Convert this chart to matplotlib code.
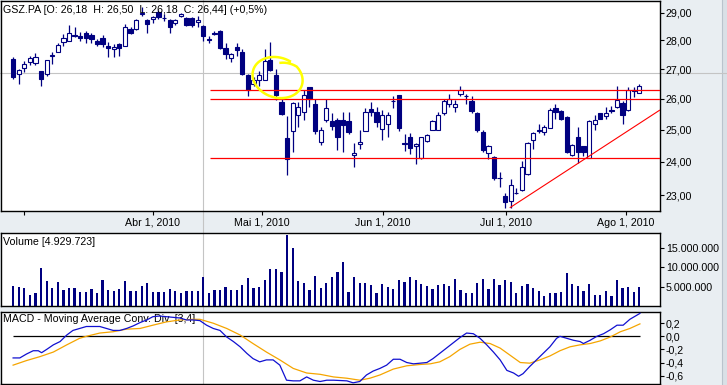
import numpy as np
import matplotlib
matplotlib.use("Agg")
import matplotlib.pyplot as plt
from matplotlib.lines import Line2D
from matplotlib.patches import Rectangle
from matplotlib.ticker import NullLocator
from matplotlib.transforms import IdentityTransform

# daily candles GSZ.PA, late Feb .. early Aug 2010 (one entry per trading day)
opens = [27.34, 26.83, 27.03, 27.23, 27.21, 26.92, 26.83, 27.45, 27.60, 27.96,
         27.99, 28.20, 28.16, 28.28, 28.19, 27.99, 28.08, 27.80, 27.68, 27.89,
         27.82, 28.41, 28.41, 28.96, 28.74, 28.78, 29.02, 28.82, 28.74, 28.62,
         28.87, 28.82, 28.82, 28.65, 28.53, 28.05, 28.28, 28.35, 27.74, 27.38,
         27.76, 27.60, 26.78, 26.50, 26.61, 26.64, 27.31, 26.81, 25.88, 24.72,
         24.96, 25.46, 25.57, 26.39, 25.84, 24.61, 25.32, 25.27, 25.32, 25.32,
         25.27, 24.20, 24.53, 24.96, 25.65, 25.57, 25.03, 25.19, 25.93, 26.11,
         24.57, 24.75, 24.49, 24.12, 24.64, 25.00, 25.00, 25.52, 25.84, 25.73,
         26.17, 26.10, 25.92, 25.53, 24.92, 24.26, 24.14, 23.52, 22.97, 22.83,
         23.07, 23.15, 23.62, 24.66, 24.99, 24.92, 25.06, 25.71, 25.59, 25.41,
         24.19, 24.75, 24.47, 24.12, 25.19, 25.52, 25.43, 25.63, 25.73, 25.86,
         25.62, 26.29, 26.18]
highs = [27.40, 26.99, 27.28, 27.45, 27.55, 26.94, 27.31, 27.60, 27.91, 28.22,
         28.56, 28.47, 28.32, 28.35, 28.26, 28.04, 28.20, 27.93, 27.87, 27.91,
         28.59, 28.47, 28.78, 29.21, 28.78, 28.90, 29.09, 28.96, 28.78, 28.78,
         29.00, 28.84, 28.84, 28.90, 28.57, 28.16, 28.35, 28.37, 27.91, 27.57,
         27.91, 27.68, 26.83, 26.72, 26.92, 27.68, 27.94, 27.00, 26.00, 25.43,
         25.89, 25.89, 26.30, 26.40, 26.00, 25.08, 26.00, 25.52, 25.36, 25.57,
         25.57, 24.58, 25.00, 25.68, 25.89, 25.73, 25.64, 25.57, 26.08, 26.13,
         24.87, 24.89, 24.57, 24.77, 24.85, 25.30, 25.55, 26.00, 26.17, 25.97,
         26.44, 26.17, 26.08, 25.57, 24.98, 24.51, 24.16, 23.69, 23.07, 23.49,
         23.20, 24.03, 24.61, 24.92, 25.19, 25.14, 25.68, 25.82, 25.62, 25.43,
         24.54, 25.08, 24.48, 25.30, 25.46, 25.54, 25.73, 25.75, 26.44, 25.92,
         26.39, 26.39, 26.50]
lows = [26.67, 26.50, 26.89, 27.15, 27.14, 26.42, 26.75, 27.17, 27.59, 27.80,
        27.97, 28.12, 27.99, 27.91, 27.91, 27.80, 27.76, 27.40, 27.42, 27.45,
        27.80, 28.22, 28.37, 28.87, 28.28, 28.62, 28.78, 28.72, 28.28, 28.56,
        28.84, 28.53, 28.47, 28.47, 27.99, 27.91, 28.18, 27.68, 27.34, 27.23,
        27.45, 26.81, 26.08, 26.41, 26.44, 26.61, 26.94, 25.97, 25.46, 23.59,
        24.29, 25.08, 25.30, 25.73, 24.87, 24.51, 25.24, 24.98, 24.35, 24.29,
        24.87, 23.83, 24.38, 24.95, 25.43, 25.08, 24.66, 24.77, 25.68, 24.96,
        24.32, 24.22, 23.93, 24.09, 24.61, 24.98, 24.98, 25.46, 25.73, 25.57,
        26.09, 25.84, 25.52, 24.92, 24.29, 24.09, 23.44, 23.23, 22.64, 22.64,
        23.03, 23.13, 23.59, 24.40, 24.89, 24.82, 25.04, 25.35, 25.32, 24.26,
        24.16, 23.95, 24.16, 24.10, 24.98, 25.33, 25.35, 25.52, 25.68, 25.19,
        25.60, 26.05, 26.18]
closes = [26.72, 26.98, 27.17, 27.38, 27.42, 26.65, 27.31, 27.47, 27.85, 28.08,
          28.28, 28.15, 28.08, 28.10, 28.04, 27.87, 27.87, 27.72, 27.76, 27.72,
          28.47, 28.25, 28.74, 28.98, 28.59, 28.86, 28.84, 28.80, 28.47, 28.74,
          28.96, 28.56, 28.57, 28.74, 28.16, 28.03, 28.22, 27.74, 27.51, 27.51,
          27.65, 26.83, 26.30, 26.64, 26.80, 27.28, 26.98, 26.14, 25.49, 24.09,
          25.87, 25.73, 26.11, 26.00, 24.96, 25.00, 25.68, 25.12, 24.77, 25.16,
          24.91, 24.27, 24.60, 25.57, 25.57, 25.24, 25.48, 25.46, 25.91, 25.06,
          24.55, 24.43, 24.56, 24.75, 24.82, 25.28, 25.48, 25.92, 26.00, 25.84,
          26.30, 26.08, 25.60, 24.98, 24.35, 24.47, 23.51, 23.50, 22.80, 23.29,
          23.06, 23.85, 24.59, 24.89, 24.97, 25.08, 25.62, 25.57, 25.35, 24.29,
          24.51, 24.29, 24.29, 25.27, 25.32, 25.35, 25.54, 25.61, 25.95, 25.48,
          26.28, 26.27, 26.44]
# volume in millions of shares
volume = [5.15, 4.90, 4.64, 2.85, 3.28, 9.77, 6.36, 4.64, 6.18, 4.13,
          4.64, 4.64, 3.54, 3.54, 4.31, 3.28, 6.69, 4.05, 3.79, 4.31,
          6.36, 3.79, 3.79, 5.08, 5.85, 3.54, 3.54, 3.54, 4.31, 3.79,
          3.28, 3.79, 3.79, 3.79, 7.46, 3.28, 4.05, 4.05, 4.90, 4.05,
          4.05, 5.33, 7.20, 4.64, 4.90, 6.69, 9.50, 9.50, 8.92, 18.40,
          15.08, 6.36, 5.85, 4.05, 7.72, 4.64, 5.85, 7.46, 8.67, 11.49,
          3.54, 7.46, 6.00, 6.00, 5.33, 3.46, 5.77, 4.90, 4.31, 6.62,
          6.10, 7.46, 6.62, 5.59, 5.26, 4.31, 5.33, 5.59, 5.08, 6.87,
          4.05, 3.46, 3.46, 5.85, 6.87, 4.31, 6.87, 5.33, 6.62, 6.10,
          3.28, 5.15, 5.59, 4.56, 3.87, 2.59, 3.28, 3.28, 3.54, 8.41,
          5.59, 5.15, 3.87, 5.59, 2.85, 2.85, 3.87, 2.59, 6.62, 4.74,
          4.90, 3.54, 4.93]

# MACD (3,4): bar position, value
macd_x = [0, 1.2, 2.4, 3.6, 4.5, 5.1, 6.0, 7.2, 8.4, 9.6, 10.7, 11.9, 13.1, 15.5,
          16.7, 17.9, 19.1, 20.3, 21.5, 22.7, 23.9, 25.0, 26.2, 27.4, 28.6, 29.8,
          31.0, 32.2, 33.4, 34.6, 35.8, 37.0, 38.2, 39.4, 40.6, 41.8, 42.9, 44.1,
          45.3, 46.5, 47.7, 48.9, 50.1, 51.3, 52.5, 53.7, 54.9, 56.1, 57.3, 59.7,
          60.8, 62.0, 63.2, 64.4, 65.6, 66.8, 68.0, 69.2, 70.4, 71.6, 72.8, 74.0,
          75.1, 76.3, 77.5, 78.7, 79.9, 81.1, 82.3, 83.5, 84.7, 85.9, 87.1, 88.3,
          89.5, 90.4, 91.2, 92.4, 93.6, 94.8, 96.0, 97.2, 97.8, 99.0, 100.2, 101.4,
          102.0, 103.2, 104.4, 105.6, 106.8, 108.0, 109.1, 110.3, 112.1]
macd_v = [-0.33, -0.33, -0.27, -0.22, -0.22, -0.25, -0.20, -0.13, -0.08, 0.02, 0.09,
          0.12, 0.15, 0.15, 0.12, 0.09, 0.09, 0.12, 0.16, 0.21, 0.25, 0.30, 0.31,
          0.30, 0.29, 0.28, 0.25, 0.25, 0.24, 0.17, 0.12, 0.09, -0.01, -0.08, -0.16,
          -0.26, -0.34, -0.39, -0.36, -0.36, -0.44, -0.67, -0.68, -0.68, -0.62,
          -0.67, -0.69, -0.67, -0.67, -0.68, -0.71, -0.69, -0.59, -0.53, -0.49,
          -0.44, -0.35, -0.35, -0.40, -0.42, -0.41, -0.40, -0.34, -0.26, -0.18,
          -0.10, -0.02, 0.05, 0.04, -0.03, -0.13, -0.24, -0.36, -0.52, -0.56,
          -0.61, -0.57, -0.46, -0.36, -0.26, -0.16, -0.03, 0.00, -0.03, -0.06,
          -0.08, -0.11, -0.06, 0.00, 0.04, 0.10, 0.17, 0.17, 0.26, 0.35]
signal_x = [0, 2.4, 4.8, 7.2, 9.6, 11.9, 13.1, 15.5, 17.9, 20.3, 22.7, 25.0, 27.4,
            29.8, 32.2, 33.4, 35.8, 38.2, 40.6, 42.9, 45.3, 47.7, 50.1, 52.5, 54.9,
            57.3, 59.7, 62.0, 63.8, 65.6, 68.0, 70.4, 72.8, 74.6, 76.3, 78.1, 79.9,
            81.7, 83.5, 85.3, 87.1, 88.9, 90.7, 92.4, 94.2, 96.0, 97.8, 99.6, 101.4,
            103.2, 105.0, 106.8, 108.6, 110.3, 112.1]
signal_v = [-0.44, -0.37, -0.31, -0.24, -0.13, -0.03, 0.00, 0.05, 0.07, 0.11, 0.12,
            0.17, 0.22, 0.25, 0.26, 0.26, 0.20, 0.12, 0.02, -0.11, -0.24, -0.36,
            -0.49, -0.56, -0.58, -0.62, -0.64, -0.67, -0.64, -0.59, -0.50, -0.45,
            -0.43, -0.42, -0.39, -0.31, -0.20, -0.12, -0.09, -0.11, -0.18, -0.29,
            -0.40, -0.41, -0.36, -0.30, -0.22, -0.16, -0.13, -0.11, -0.07, -0.01,
            0.07, 0.12, 0.19]

# hand drawn support / resistance lines
levels = [26.30, 26.00, 24.10]
level_start = 35.2
trend_x = [88.9, 115.6]
trend_y = [22.64, 25.62]
cursor_bar = 34
cursor_price = 26.85

tick_pos = [1.97, 25.0, 44.45, 66.1, 88.15, 109.6]
tick_labels = ["", "Abr 1, 2010", "Mai 1, 2010", "Jun 1, 2010", "Jul 1, 2010", "Ago 1, 2010"]
price_ticks = [23, 24, 25, 26, 27, 28, 29]
vol_ticks = [5, 10, 15]
macd_ticks = [0.2, 0.0, -0.2, -0.4, -0.6]

navy = "#000080"
bg = "#e9eef2"
W, H = 727, 385
n = len(closes)
idx = np.arange(n)
plt.rcParams["font.family"] = ["Liberation Sans", "DejaVu Sans"]
fs = 7.7


def rect(x0, y0, x1, y1):
    return [x0 / W, 1 - y1 / H, (x1 - x0) / W, (y1 - y0) / H]


fig = plt.figure(figsize=(W / 100, H / 100), dpi=100)
fig.patch.set_facecolor(bg)
fig.add_artist(Rectangle((722 / W, 0), 5 / W, 1, transform=fig.transFigure,
                         facecolor="#d9e0e6", edgecolor="none", zorder=-3))
fig.add_artist(Line2D([722 / W] * 2, [0, 1], color="#b9c3cc", lw=0.8, zorder=-2))
# crosshair in the gaps
fig.add_artist(Line2D([203.3 / W] * 2, [0, 1], color="#c4c4c4", lw=0.8, zorder=-1))
fig.add_artist(Line2D([0, 1], [1 - 72.7 / H] * 2, color="#c4c4c4", lw=0.8, zorder=-1))

ax = fig.add_axes(rect(0.8, 0.5, 659.5, 211))
axv = fig.add_axes(rect(0.8, 233.3, 659.5, 306))
axm = fig.add_axes(rect(0.8, 311.7, 659.5, 384))

for a in (ax, axv, axm):
    a.set_facecolor("white")
    a.set_xlim(-2.2, 115.6)
    for s in a.spines.values():
        s.set_linewidth(1.0)
        s.set_color("black")
    a.yaxis.tick_right()
    a.tick_params(axis="y", direction="out", length=3, width=0.8, pad=1.5,
                  labelsize=fs, colors="black")
    a.axvline(cursor_bar, color="#c4c4c4", lw=0.8, zorder=0.5)

# price panel
ax.set_yscale("log")
ax.set_ylim(22.54, 29.46)
ax.yaxis.set_minor_locator(NullLocator())
ax.set_yticks(price_ticks, labels=[f"{p:.2f}".replace(".", ",") for p in price_ticks])
ax.set_xticks(tick_pos, labels=tick_labels)
ax.tick_params(axis="x", direction="out", length=3, width=0.8, pad=2, labelsize=fs)
ax.axhline(cursor_price, color="#c4c4c4", lw=0.8, zorder=0.5)

o = np.array(opens)
c = np.array(closes)
ax.vlines(idx, lows, highs, color=navy, lw=0.9, zorder=2)
up = c >= o
body = np.maximum(np.abs(c - o), 0.015)
ax.bar(idx, body, bottom=np.minimum(o, c), width=0.76,
       color=np.where(up, "white", navy), edgecolor=navy, linewidth=0.8, zorder=3)

for lv in levels:
    ax.hlines(lv, level_start, 115.6, color="red", lw=0.9, zorder=4)
ax.plot(trend_x, trend_y, color="red", lw=0.8, zorder=4)

ax.text(3 / W, 1 - 10 / H, "GSZ.PA [O: 26,18  H: 26,50  L: 26,18  C: 26,44] (+0,5%)",
        transform=fig.transFigure, fontsize=fs, va="center", ha="left", zorder=6)

# volume panel
axv.bar(idx, volume, width=0.4, color=navy, zorder=2)
axv.set_ylim(0, 18.8)
axv.set_xticks([])
axv.set_yticks(vol_ticks, labels=[f"{v}.000.000" for v in vol_ticks])
axv.text(3 / W, 1 - 241.7 / H, "Volume [4.929.723]", transform=fig.transFigure,
         fontsize=fs, va="center", ha="left")

# MACD panel
axm.set_ylim(-0.728, 0.376)
axm.set_xticks([])
axm.set_yticks(macd_ticks, labels=[f"{v:.1f}".replace(".", ",").replace("-0,0", "0,0") for v in macd_ticks])
axm.text(3 / W, 1 - 319.3 / H, "MACD - Moving Average Conv. Div. [3,4]",
         transform=fig.transFigure, fontsize=fs, va="center", ha="left", zorder=1)
axm.hlines(0, 0, 112.1, color="black", lw=0.9, zorder=2)
axm.plot(signal_x, signal_v, color="#f5a500", lw=0.9, zorder=3)
axm.plot(macd_x, macd_v, color="#1010d0", lw=0.9, zorder=4)

# yellow hand drawn loop around the reversal candles
cx, cy = ax.transData.transform((47.3, 26.71))
t = np.linspace(np.radians(75), np.radians(75 + 380), 200)
shrink = np.where(t > np.radians(75 + 340), 1 - 0.25 * (t - np.radians(75 + 340)) / np.radians(40), 1.0)
rot = np.radians(-18)
ex = 25.5 * np.cos(t) * shrink
ey = 20 * np.sin(t) * shrink
ax.plot(cx + ex * np.cos(rot) - ey * np.sin(rot), cy + ex * np.sin(rot) + ey * np.cos(rot),
        color="#ffff00", lw=1.8, transform=IdentityTransform(), zorder=5)
ax.set_xlim(-2.2, 115.6)
ax.set_ylim(22.54, 29.46)

fig.savefig("out.png", dpi=100, facecolor=fig.get_facecolor())
